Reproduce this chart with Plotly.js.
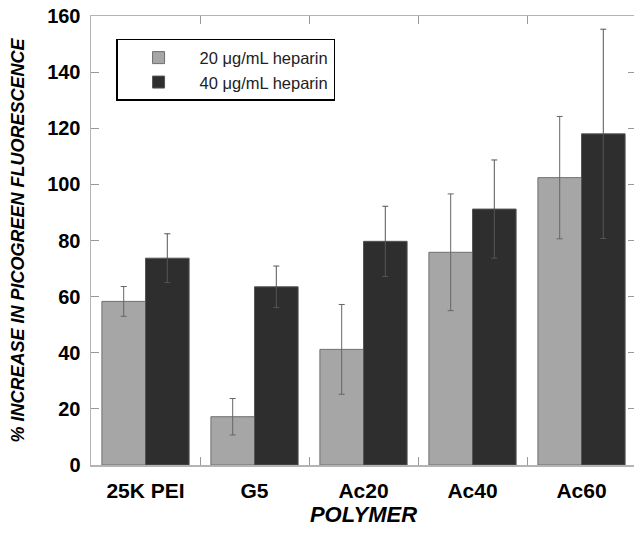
<!DOCTYPE html>
<html>
<head>
<meta charset="utf-8">
<script src="https://cdn.plot.ly/plotly-3.0.1.min.js"></script>
<style>
html, body { margin:0; padding:0; overflow:hidden; background:#fff; }
#chart { width:636px; height:533px; }
</style>
</head>
<body>
<div id="chart"></div>
<script>
const categories = ['25K PEI', 'G5', 'Ac20', 'Ac40', 'Ac60'];
const series20Name = '20 μg/mL heparin';
const series40Name = '40 μg/mL heparin';
const values20 = [58.3, 17.2, 41.2, 75.8, 102.4];
const errors20 = [5.3, 6.5, 16.0, 20.8, 21.8];
const values40 = [73.7, 63.5, 79.7, 91.2, 118.0];
const errors40 = [8.7, 7.4, 12.5, 17.5, 37.3];
const yTickVals = [0, 20, 40, 60, 80, 100, 120, 140, 160];

const data = [
  {
    type: 'bar', name: series20Name, x: categories, y: values20,
    marker: { color: '#a6a6a6', line: { color: '#6e6e6e', width: 1 } },
    error_y: { type: 'data', array: errors20, visible: true, color: '#666666', thickness: 1, width: 3 }
  },
  {
    type: 'bar', name: series40Name, x: categories, y: values40,
    marker: { color: '#2e2e2e', line: { color: '#555555', width: 1 } },
    error_y: { type: 'data', array: errors40, visible: true, color: '#555555', thickness: 1, width: 3 }
  }
];

const layout = {
  width: 636, height: 533,
  margin: { l: 91, r: 0, t: 16, b: 68 },
  paper_bgcolor: '#ffffff', plot_bgcolor: '#ffffff',
  barmode: 'group', bargap: 0.2, bargroupgap: 0,
  font: { family: 'Liberation Sans, Arial, sans-serif', color: '#000' },
  showlegend: true,
  legend: {
    x: 0.046, y: 0.949, xanchor: 'left', yanchor: 'top',
    bgcolor: '#ffffff', bordercolor: '#000000', borderwidth: 1.5,
    font: { size: 16.5, color: '#222' }, itemwidth: 72,
    tracegroupgap: 0
  },
  xaxis: {
    type: 'category',
    showline: true, linecolor: '#b4b4b4', linewidth: 1.5, mirror: 'allticks',
    ticks: 'inside', tickson: 'boundaries', ticklen: 8, tickcolor: '#999999', tickwidth: 1,
    tickfont: { size: 21, weight: 'bold', color: '#000' },
    ticklabelstandoff: 6,
    title: { text: 'POLYMER', font: { size: 22, weight: 'bold', style: 'italic', color: '#000' }, standoff: 4 },
    showgrid: false, zeroline: false, automargin: false
  },
  yaxis: {
    range: [0, 160], tickvals: yTickVals, ticktext: yTickVals.map(String),
    showline: true, linecolor: '#b4b4b4', linewidth: 1.5, mirror: 'allticks',
    ticks: 'inside', ticklen: 8, tickcolor: '#999999', tickwidth: 1,
    tickfont: { size: 20, weight: 'bold', color: '#000' },
    ticklabelstandoff: 5,
    title: { text: '% INCREASE IN PICOGREEN FLUORESCENCE', font: { size: 18, weight: 'bold', style: 'italic', color: '#000' }, standoff: 18 },
    showgrid: false, zeroline: false, automargin: false
  }
};

Plotly.newPlot('chart', data, layout, { displayModeBar: false, staticPlot: true });
</script>
</body>
</html>
